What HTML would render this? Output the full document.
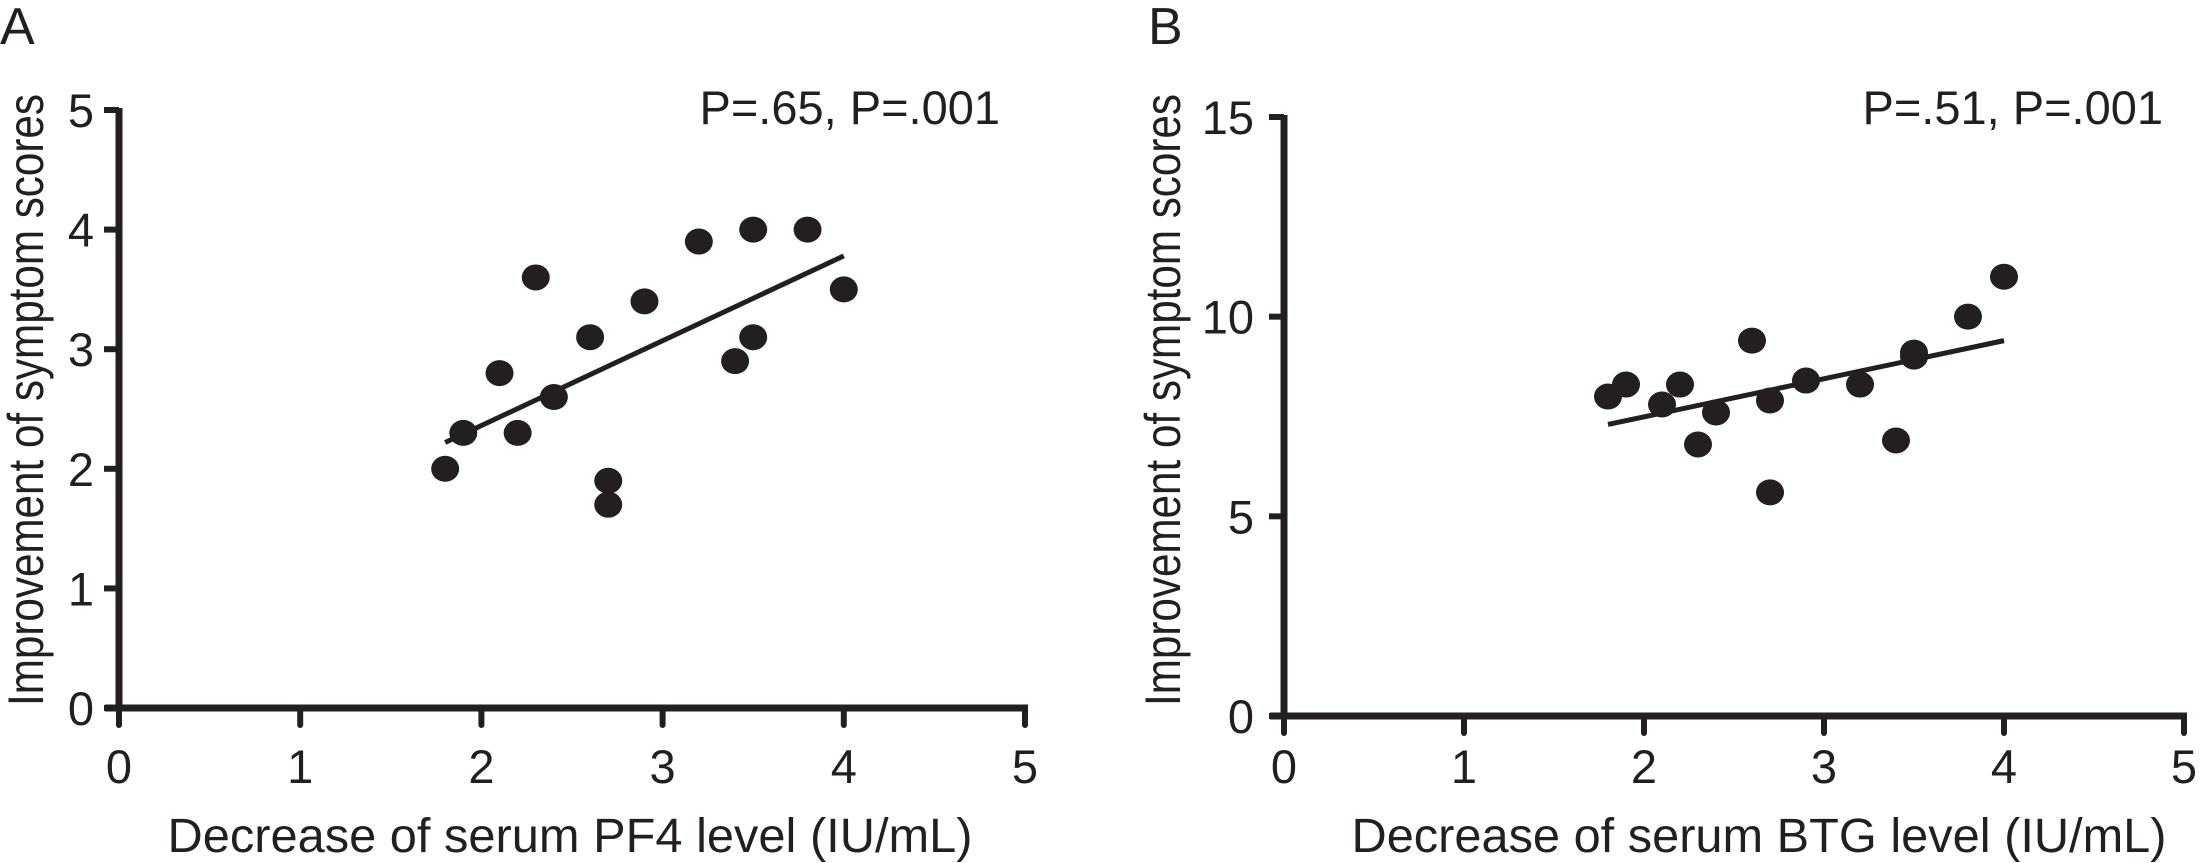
<!DOCTYPE html>
<html><head><meta charset="utf-8">
<style>
html,body{margin:0;padding:0;background:#fff;}
svg{display:block;font-family:"Liberation Sans",Arial,sans-serif;fill:#231f20;}
</style></head>
<body>
<svg id="fig" width="2205" height="863" viewBox="0 0 2205 863" xmlns="http://www.w3.org/2000/svg">
<text x="0" y="44" font-size="52">A</text>
<text x="1148" y="44" font-size="52">B</text>
<g id="pa"></g>
<g id="pb"></g>
</svg>
<script>
// Panel A data
const aX = [1.8,1.9,2.1,2.2,2.3,2.4,2.6,2.7,2.7,2.9,3.2,3.4,3.5,3.5,3.8,4.0];
const aY = [2.0,2.3,2.8,2.3,3.6,2.6,3.1,1.9,1.7,3.4,3.9,2.9,4.0,3.1,4.0,3.5];
const aLineX = [1.8,4.0];
const aLineY = [2.22,3.78];
const aXTicks = [0,1,2,3,4,5];
const aYTicks = [0,1,2,3,4,5];
// Panel B data
const bX = [1.8,1.9,2.1,2.2,2.3,2.4,2.6,2.7,2.7,2.9,3.2,3.4,3.5,3.5,3.8,4.0];
const bY = [8.0,8.3,7.8,8.3,6.8,7.6,9.4,7.9,5.6,8.4,8.3,6.9,9.1,9.0,10.0,11.0];
const bLineX = [1.8,4.0];
const bLineY = [7.3,9.4];
const bXTicks = [0,1,2,3,4,5];
const bYTicks = [0,5,10,15];

const NS="http://www.w3.org/2000/svg";
function mk(parent,tag,attrs){const e=document.createElementNS(NS,tag);for(const k in attrs)e.setAttribute(k,attrs[k]);parent.appendChild(e);return e;}

function panel(g,cfg){
  const sx=v=>cfg.x0+(v-cfg.xmin)/(cfg.xmax-cfg.xmin)*(cfg.x1-cfg.x0);
  const sy=v=>cfg.y0-(v-cfg.ymin)/(cfg.ymax-cfg.ymin)*(cfg.y0-cfg.y1);
  const ya=mk(g,'line',{x1:cfg.x0,y1:sy(cfg.ymax)-2,x2:cfg.x0,y2:cfg.y0+2,stroke:'#231f20','stroke-width':7});
  
  
  const xa=mk(g,'line',{x1:cfg.x0-14,y1:cfg.y0,x2:sx(cfg.xmax)+3,y2:cfg.y0,stroke:'#231f20','stroke-width':7});
  
  
  cfg.xt.forEach(t=>{
    const l=mk(g,'line',{x1:sx(t),y1:cfg.y0,x2:sx(t),y2:cfg.y0+17,stroke:'#231f20','stroke-width':6,'stroke-linecap':'round'});
    
    
    const tx=mk(g,'text',{x:sx(t),y:783,'font-size':47,'text-anchor':'middle'});
    tx.textContent=t;
    
    
  });
  cfg.yt.forEach(t=>{
    const l=mk(g,'line',{x1:cfg.x0-15,y1:sy(t),x2:cfg.x0,y2:sy(t),stroke:'#231f20','stroke-width':6});
    
    
    const tx=mk(g,'text',{x:cfg.labR,y:sy(t)+17,'font-size':47,'text-anchor':'end'});
    tx.textContent=t;
    
    
  });
  const rl=mk(g,'line',{x1:sx(cfg.lx[0]),y1:sy(cfg.ly[0]),x2:sx(cfg.lx[1]),y2:sy(cfg.ly[1]),stroke:'#231f20','stroke-width':5});
  
  
  cfg.xs.forEach((v,i)=>{
    const c=mk(g,'ellipse',{cx:sx(v),cy:sy(cfg.ys[i]),rx:14,ry:13,fill:'#231f20'});
    
    
  });
  const yt=mk(g,'text',{transform:`translate(${cfg.ytX},400) rotate(-90)`,'font-size':50,'text-anchor':'middle',textLength:612,lengthAdjust:'spacingAndGlyphs'});
  yt.textContent='Improvement of symptom scores';
  
  
  const xt=mk(g,'text',{x:cfg.xtX,y:852,'font-size':48,'text-anchor':'middle',textLength:cfg.xtW,lengthAdjust:'spacingAndGlyphs'});
  xt.textContent=cfg.xTitle;
  
  
  const pt=mk(g,'text',{x:cfg.pR,y:124,'font-size':47,'text-anchor':'end'});
  pt.textContent=cfg.pText;
  
  
}

panel(document.getElementById('pa'),{x0:119,x1:1025,xmin:0,xmax:5,y0:708,y1:110,ymin:0,ymax:5,
  xt:aXTicks,yt:aYTicks,xs:aX,ys:aY,lx:aLineX,ly:aLineY,labR:94,ytX:43,xtX:570,xtW:805,
  xTitle:'Decrease of serum PF4 level (IU/mL)',pR:1000,pText:'P=.65, P=.001'});
panel(document.getElementById('pb'),{x0:1284,x1:2184,xmin:0,xmax:5,y0:716,y1:117,ymin:0,ymax:15,
  xt:bXTicks,yt:bYTicks,xs:bX,ys:bY,lx:bLineX,ly:bLineY,labR:1254,ytX:1180,xtX:1759,xtW:815,
  xTitle:'Decrease of serum BTG level (IU/mL)',pR:2163,pText:'P=.51, P=.001'});
</script>
</body></html>
